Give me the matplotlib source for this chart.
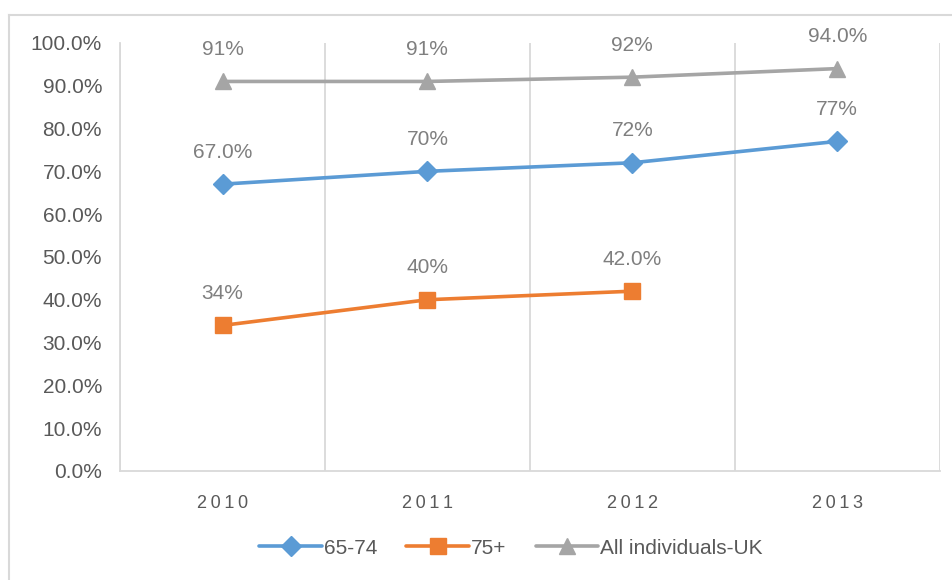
import matplotlib.pyplot as plt
import numpy as np
from matplotlib.lines import Line2D

plt.rcParams['font.family'] = ['Liberation Sans', 'DejaVu Sans']

years = ['2010', '2011', '2012', '2013']
series_names = ['65-74', '75+', 'All individuals-UK']
values_6574 = [67.0, 70.0, 72.0, 77.0]
values_75 = [34.0, 40.0, 42.0, np.nan]
values_all = [91.0, 91.0, 92.0, 94.0]
labels_6574 = ['67.0%', '70%', '72%', '77%']
labels_75 = ['34%', '40%', '42.0%', '']
labels_all = ['91%', '91%', '92%', '94.0%']
yticks = np.arange(0, 101, 10)

colors = ['#5B9BD5', '#ED7D31', '#A5A5A5']
markers = ['D', 's', '^']
msizes = [10, 11, 12]
grid_col = '#D9D9D9'
tick_col = '#595959'
label_col = '#7F7F7F'

fig = plt.figure(figsize=(9.53, 5.80), dpi=100)
ax = fig.add_axes([0.126, 0.188, 0.86, 0.738])

x = np.arange(len(years))
series = [values_6574, values_75, values_all]
labels = [labels_6574, labels_75, labels_all]

for vals, labs, name, c, m, ms in zip(series, labels, series_names, colors, markers, msizes):
    ax.plot(x, vals, color=c, lw=2.6, marker=m, markersize=ms, label=name,
            solid_capstyle='round', zorder=3)
    for xi, v, lab in zip(x, vals, labs):
        if lab:
            ax.annotate(lab, (xi, v), xytext=(0, 23), textcoords='offset points',
                        ha='center', va='center', fontsize=15, color=label_col)

ax.set_xlim(-0.5, len(years) - 0.5)
ax.set_ylim(0, 100)
ax.set_yticks(yticks)
ax.set_yticklabels([f'{t:.1f}%' for t in yticks], fontsize=15, color=tick_col)
ax.set_xticks(x)
ax.set_xticklabels(['\u2009'.join(y) for y in years], fontsize=13, color=tick_col)
ax.tick_params(axis='both', length=0)
ax.tick_params(axis='y', pad=13)
ax.tick_params(axis='x', pad=17)

# vertical gridlines between categories
ax.set_xticks(np.arange(-0.5, len(years)), minor=True)
ax.tick_params(axis='x', which='minor', length=0)
ax.grid(axis='x', which='minor', color=grid_col, lw=1.3)

for side in ['top', 'right']:
    ax.spines[side].set_visible(False)
for side in ['left', 'bottom']:
    ax.spines[side].set_color(grid_col)
    ax.spines[side].set_linewidth(1.3)

ax.legend(loc='center', bbox_to_anchor=(0.477, -0.18), ncol=3, frameon=False,
          fontsize=15, labelcolor=tick_col, handlelength=3.0, columnspacing=1.4,
          handletextpad=0.1)

# chart area border (left and top edges visible)
fig.add_artist(Line2D([9.5 / 953, 9.5 / 953], [0, 1 - 14.5 / 580], color=grid_col, lw=1.5))
fig.add_artist(Line2D([9.5 / 953, 1], [1 - 14.5 / 580, 1 - 14.5 / 580], color=grid_col, lw=1.5))

plt.savefig('out.png', dpi=100)
plt.close()
